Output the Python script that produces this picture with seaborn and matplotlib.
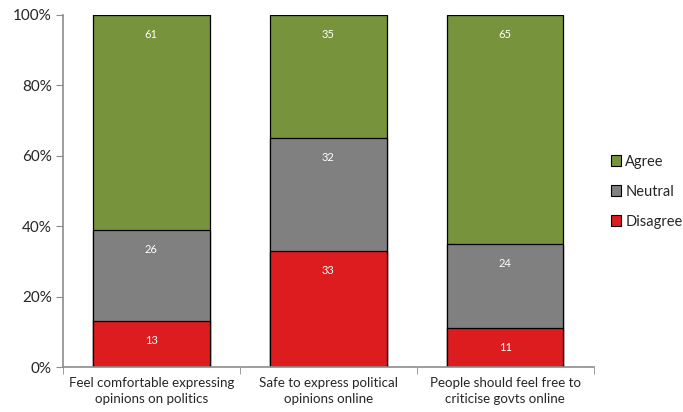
import numpy as np
import pandas as pd
import matplotlib
matplotlib.use("Agg")
import matplotlib.pyplot as plt
import seaborn as sns
from matplotlib.patches import Patch

# Data
statements = ["Feel comfortable expressing\nopinions on politics",
              "Safe to express political\nopinions online",
              "People should feel free to\ncriticise govts online"]
disagree = [13, 33, 11]
neutral = [26, 32, 24]
agree = [61, 35, 65]

colors = {"Agree": "#77933C", "Neutral": "#808080", "Disagree": "#DC1C1E"}

df = pd.DataFrame({"statement": statements, "Disagree": disagree,
                   "Neutral": neutral, "Agree": agree})
tot = df[["Disagree", "Neutral", "Agree"]].sum(axis=1)
df["cum_D"] = df["Disagree"] / tot * 100
df["cum_N"] = df["cum_D"] + df["Neutral"] / tot * 100
df["cum_A"] = df["cum_N"] + df["Agree"] / tot * 100

sns.set_style("white")
plt.rcParams["font.family"] = ["Lato", "DejaVu Sans"]

fig = plt.figure(figsize=(6.83, 4.12), dpi=100)
ax = fig.add_axes([0.092, 0.109, 0.777, 0.855])

# draw cumulative bars from the top down so they stack
for col, name in [("cum_A", "Agree"), ("cum_N", "Neutral"), ("cum_D", "Disagree")]:
    sns.barplot(data=df, x="statement", y=col, color=colors[name], width=0.66,
                edgecolor="black", linewidth=0.9, saturation=1, ax=ax)

# value labels, placed just inside the top of each segment
for i, row in df.iterrows():
    for name, cum in [("Disagree", "cum_D"), ("Neutral", "cum_N"), ("Agree", "cum_A")]:
        ax.text(i, row[cum] - 5.5, str(int(row[name])),
                ha="center", va="center", color="white", fontsize=8)

ax.set_xlim(-0.5, 2.5)
ax.set_ylim(0, 100)
ax.set_yticks(np.arange(0, 101, 20))
ax.set_yticklabels([f"{v}%" for v in range(0, 101, 20)], fontsize=11)
ax.set_xlabel("")
ax.set_ylabel("")
ax.tick_params(axis="x", length=0, labelsize=9.6, pad=7)
for lbl in ax.get_xticklabels():
    lbl.set_linespacing(1.45)
ax.set_xticks([-0.5, 0.5, 1.5, 2.5], minor=True)
ax.tick_params(axis="x", which="minor", length=5, color="#8C8C8C", bottom=True)
ax.tick_params(axis="y", length=5, color="#8C8C8C", left=True, pad=3)
for s in ["top", "right"]:
    ax.spines[s].set_visible(False)
for s in ["left", "bottom"]:
    ax.spines[s].set_color("#8C8C8C")
    ax.spines[s].set_linewidth(1.2)

handles = [Patch(facecolor=colors[n], edgecolor="black", linewidth=0.8, label=n)
           for n in ["Agree", "Neutral", "Disagree"]]
fig.legend(handles=handles, loc="center left", bbox_to_anchor=(0.875, 0.535),
           frameon=False, fontsize=10.5, handlelength=0.7, handleheight=0.7,
           handletextpad=0.3, labelspacing=1.1)

fig.savefig("out.png", dpi=100)
